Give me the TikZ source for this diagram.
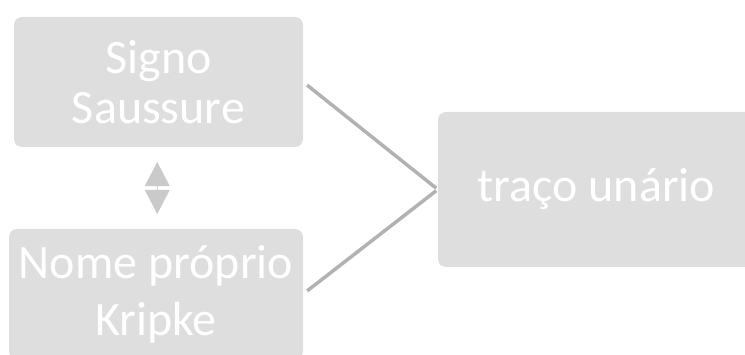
\documentclass[tikz,border=0pt]{standalone}
\usepackage{fontspec}
\setmainfont{Carlito}
\usetikzlibrary{shapes.arrows,calc}
\definecolor{caixacinza}{HTML}{DEDEDE}
\definecolor{linhacinza}{HTML}{B2B2B2}
\definecolor{setacinza}{HTML}{CACACA}
\begin{document}
\begin{tikzpicture}[
		x=1pt, y=-1pt,
		caixa/.style={fill=caixacinza, rounded corners=8pt, text=white, align=center, inner sep=0pt, font=\fontsize{48}{50}\selectfont},
		liga/.style={draw=linhacinza, line width=3.5pt},
		seta/.style={double arrow, fill=setacinza, rotate=90, inner sep=0pt, minimum height=52pt, minimum width=25pt, double arrow head extend=6.5pt, double arrow tip angle=55}
		]
		\clip (0,0) rectangle (745,355);
		\node[caixa, minimum width=289pt, minimum height=130pt] (signo) at (158.5,82) {Signo\\Saussure};
		\node[caixa, minimum width=294pt, minimum height=130pt] (nome) at (156,294) {Nome próprio\\[7pt]Kripke};
		\node[caixa, minimum width=317pt, minimum height=155pt] (traco) at (596.5,189.5) {traço unário};
		\node[seta] (dupla) at ($(signo.south)!0.5!(nome.north)$) {};
		
		\draw[liga, shorten <=5pt, shorten >=2pt] (signo.east) -- (traco.west);
		\draw[liga, shorten <=5pt, shorten >=2pt] (nome.east) -- (traco.west);
	\end{tikzpicture}
\end{document}
